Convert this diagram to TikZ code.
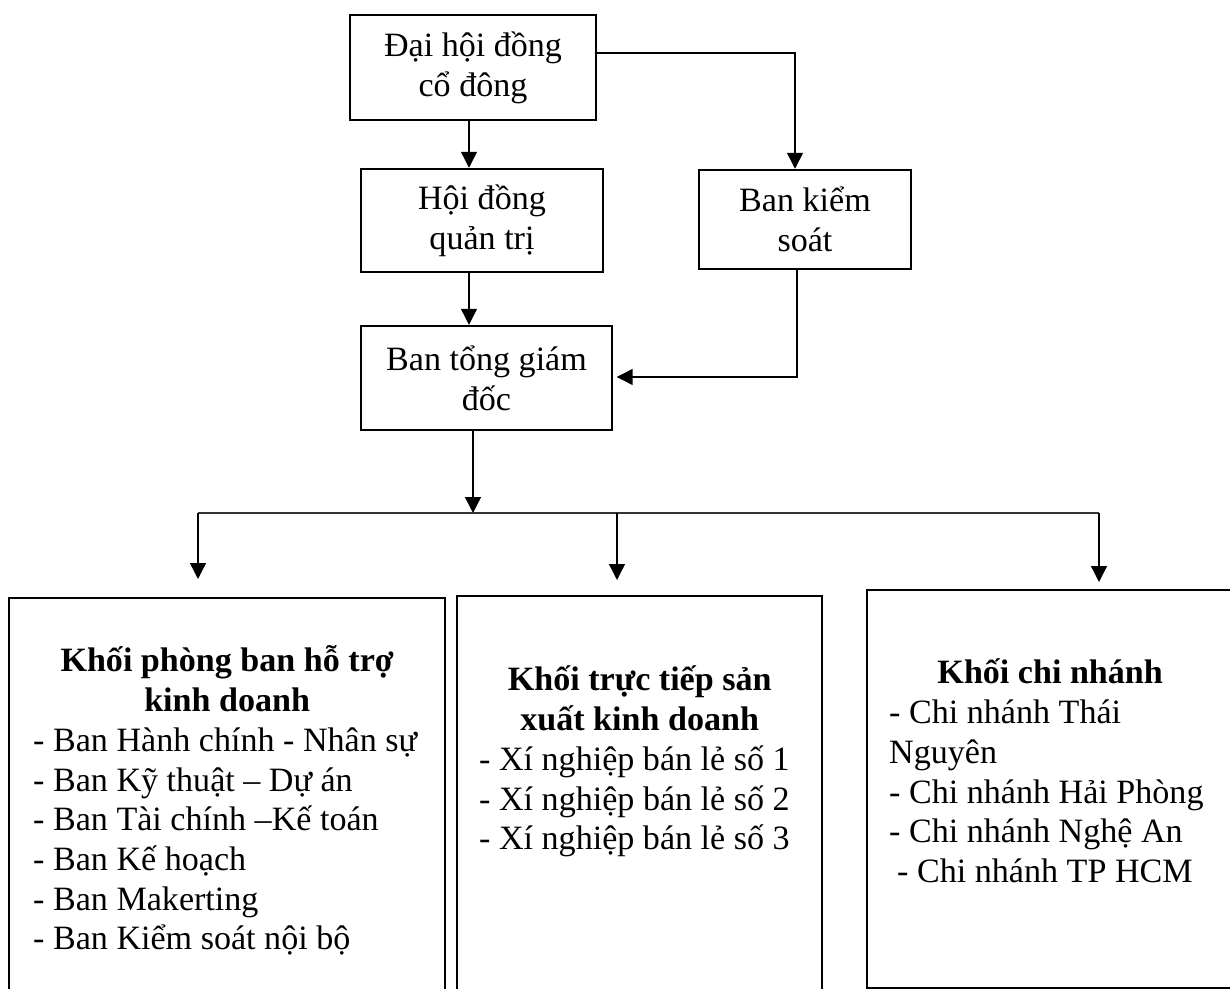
\documentclass[tikz,border=0pt]{standalone}
\usepackage{fontspec}
\setmainfont{Liberation Serif}
\usetikzlibrary{arrows.meta}
\tikzset{
  unit/.style={draw,line width=1.4pt,align=center,inner sep=0pt,minimum height=2.06cm},
  block/.style={draw,line width=1.4pt,anchor=north west,inner sep=0pt},
  link/.style={line width=0.75pt,-{Triangle[width=9pt,length=9pt]}},
  bus/.style={line width=0.6pt,black!80}
}

\begin{document}
\begin{tikzpicture}[x=0.02cm,y=-0.02cm,
  every node/.style={font=\fontsize{19.4pt}{22.6pt}\selectfont}]
  \clip (0,0) rectangle (1230,989);
  % management
  \node[unit,minimum width=4.92cm,minimum height=2.1cm] (dhcd) at (473,67.5) {Đại hội đồng\\cổ đông};
  \node[unit,minimum width=4.84cm] (hdqt) at (482,220.5) {Hội đồng\\quản trị};
  \node[unit,minimum width=4.24cm,minimum height=1.98cm] (bks) at (805,219.5) {Ban kiểm\\soát};
  \node[unit,minimum width=5.02cm,minimum height=2.08cm] (btgd) at (486.5,378) {Ban tổng giám\\đốc};
  % blocks
  \node[block] (kpb) at (8,597) {\parbox[t][8.12cm][t]{8.72cm}{\hbox{}\vspace{0.68cm}
    {\centering\bfseries Khối phòng ban hỗ trợ\\kinh doanh\par}
    \leftskip=0.48cm
    - Ban Hành chính - Nhân sự\\
    - Ban Kỹ thuật – Dự án\\
    - Ban Tài chính –Kế toán\\
    - Ban Kế hoạch\\
    - Ban Makerting\\
    - Ban Kiểm soát nội bộ\par}};
  \node[block] (ktt) at (456,595) {\parbox[t][8.16cm][t]{7.3cm}{\hbox{}\vspace{1.1cm}
    {\centering\bfseries Khối trực tiếp sản\\xuất kinh doanh\par}
    \leftskip=0.44cm
    - Xí nghiệp bán lẻ số 1\\
    - Xí nghiệp bán lẻ số 2\\
    - Xí nghiệp bán lẻ số 3\par}};
  \node[block] (kcn) at (866,589) {\parbox[t][7.96cm][t]{7.32cm}{\hbox{}\vspace{1.08cm}
    {\centering\bfseries Khối chi nhánh\par}
    \leftskip=0.44cm
    - Chi nhánh Thái\\
    Nguyên\\
    - Chi nhánh Hải Phòng\\
    - Chi nhánh Nghệ An\\
    \hspace*{0.16cm}- Chi nhánh TP HCM\par}};
  % helper points
  \coordinate (spine) at (469,0);
  \coordinate (kink) at (795,53);
  \coordinate (turn) at (797,377);
  \coordinate (trunk) at (473,513);
  \coordinate (busL) at (198,513);
  \coordinate (busM) at (617,513);
  \coordinate (busR) at (1099,513);
  \coordinate (inL) at (198,579);
  \coordinate (inM) at (617,580);
  \coordinate (inR) at (1099,582);
  % connectors
  \draw[link] (dhcd.south -| spine) -- (hdqt.north -| spine);
  \draw[link] (hdqt.south -| spine) -- (btgd.north -| spine);
  \draw[link] (dhcd.east |- kink) -- (kink) -- (kink |- bks.north);
  \draw[link] (bks.south -| turn) -- (turn) -- ([xshift=2pt]btgd.east |- turn);
  \draw[link] (btgd.south -| trunk) -- (trunk);
  \draw[bus] (busL) -- (busR);
  \draw[link] (busL) -- (inL);
  \draw[link] (busM) -- (inM);
  \draw[link] (busR) -- (inR);
\end{tikzpicture}
\end{document}
